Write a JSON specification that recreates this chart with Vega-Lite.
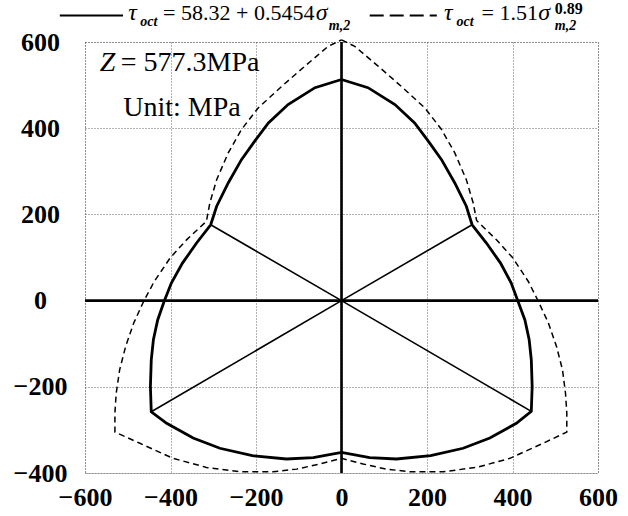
{
  "$schema": "https://vega.github.io/schema/vega-lite/v6.json",
  "width": 513,
  "height": 431,
  "autosize": {"type": "none"},
  "padding": {"left": 85, "top": 42, "right": 30, "bottom": 43},
  "background": "white",
  "config": {
    "view": {"stroke": "#666", "strokeDash": [1, 2], "strokeWidth": 1},
    "font": "Liberation Serif",
    "axis": {
      "grid": true,
      "gridColor": "#666",
      "gridDash": [1, 2],
      "gridWidth": 1,
      "domain": false,
      "ticks": false,
      "title": null,
      "labelFlush": false,
      "labelColor": "black"
    }
  },
  "datasets": {
    "envelopes": [
      {"curve": "linear", "seq": 0, "x": 0, "y": 513},
      {"curve": "linear", "seq": 1, "x": 62, "y": 494},
      {"curve": "linear", "seq": 2, "x": 125, "y": 455},
      {"curve": "linear", "seq": 3, "x": 171, "y": 412},
      {"curve": "linear", "seq": 4, "x": 203, "y": 370},
      {"curve": "linear", "seq": 5, "x": 234, "y": 327},
      {"curve": "linear", "seq": 6, "x": 265, "y": 273},
      {"curve": "linear", "seq": 7, "x": 292, "y": 219},
      {"curve": "linear", "seq": 8, "x": 305.5, "y": 176},
      {"curve": "linear", "seq": 9, "x": 339, "y": 133.6},
      {"curve": "linear", "seq": 10, "x": 372, "y": 87},
      {"curve": "linear", "seq": 11, "x": 397, "y": 40.6},
      {"curve": "linear", "seq": 12, "x": 413, "y": -2},
      {"curve": "linear", "seq": 13, "x": 429, "y": -45},
      {"curve": "linear", "seq": 14, "x": 439, "y": -91},
      {"curve": "linear", "seq": 15, "x": 444, "y": -137.5},
      {"curve": "linear", "seq": 16, "x": 446, "y": -199.5},
      {"curve": "linear", "seq": 17, "x": 444, "y": -257},
      {"curve": "linear", "seq": 18, "x": 409, "y": -284.6},
      {"curve": "linear", "seq": 19, "x": 347, "y": -319},
      {"curve": "linear", "seq": 20, "x": 284.5, "y": -342.6},
      {"curve": "linear", "seq": 21, "x": 208.6, "y": -359.8},
      {"curve": "linear", "seq": 22, "x": 128.6, "y": -367.5},
      {"curve": "linear", "seq": 23, "x": 66, "y": -364.5},
      {"curve": "linear", "seq": 24, "x": 0, "y": -352},
      {"curve": "linear", "seq": 25, "x": -66, "y": -364.5},
      {"curve": "linear", "seq": 26, "x": -128.6, "y": -367.5},
      {"curve": "linear", "seq": 27, "x": -208.6, "y": -359.8},
      {"curve": "linear", "seq": 28, "x": -284.5, "y": -342.6},
      {"curve": "linear", "seq": 29, "x": -347, "y": -319},
      {"curve": "linear", "seq": 30, "x": -409, "y": -284.6},
      {"curve": "linear", "seq": 31, "x": -445, "y": -258},
      {"curve": "linear", "seq": 32, "x": -447, "y": -199.5},
      {"curve": "linear", "seq": 33, "x": -445, "y": -137.5},
      {"curve": "linear", "seq": 34, "x": -440, "y": -91},
      {"curve": "linear", "seq": 35, "x": -430, "y": -45},
      {"curve": "linear", "seq": 36, "x": -415, "y": -2},
      {"curve": "linear", "seq": 37, "x": -398, "y": 40.6},
      {"curve": "linear", "seq": 38, "x": -372, "y": 87},
      {"curve": "linear", "seq": 39, "x": -339, "y": 133.6},
      {"curve": "linear", "seq": 40, "x": -306, "y": 176},
      {"curve": "linear", "seq": 41, "x": -292, "y": 219},
      {"curve": "linear", "seq": 42, "x": -265, "y": 273},
      {"curve": "linear", "seq": 43, "x": -234, "y": 327},
      {"curve": "linear", "seq": 44, "x": -203, "y": 370},
      {"curve": "linear", "seq": 45, "x": -171, "y": 412},
      {"curve": "linear", "seq": 46, "x": -125, "y": 455},
      {"curve": "linear", "seq": 47, "x": -62, "y": 494},
      {"curve": "linear", "seq": 48, "x": 0, "y": 513},

      {"curve": "power", "seq": 0, "x": 0, "y": 605},
      {"curve": "power", "seq": 1, "x": 31, "y": 590},
      {"curve": "power", "seq": 2, "x": 85.6, "y": 544},
      {"curve": "power", "seq": 3, "x": 140, "y": 497},
      {"curve": "power", "seq": 4, "x": 195, "y": 447},
      {"curve": "power", "seq": 5, "x": 234, "y": 397},
      {"curve": "power", "seq": 6, "x": 265, "y": 342.6},
      {"curve": "power", "seq": 7, "x": 292, "y": 280.6},
      {"curve": "power", "seq": 8, "x": 308, "y": 226.5},
      {"curve": "power", "seq": 9, "x": 316, "y": 186},
      {"curve": "power", "seq": 10, "x": 362.5, "y": 141},
      {"curve": "power", "seq": 11, "x": 401, "y": 98.7},
      {"curve": "power", "seq": 12, "x": 437, "y": 44.4},
      {"curve": "power", "seq": 13, "x": 460.6, "y": -2},
      {"curve": "power", "seq": 14, "x": 484, "y": -52},
      {"curve": "power", "seq": 15, "x": 503, "y": -106.6},
      {"curve": "power", "seq": 16, "x": 517, "y": -160.7},
      {"curve": "power", "seq": 17, "x": 524, "y": -215},
      {"curve": "power", "seq": 18, "x": 527, "y": -260},
      {"curve": "power", "seq": 19, "x": 527, "y": -305},
      {"curve": "power", "seq": 20, "x": 471.6, "y": -331},
      {"curve": "power", "seq": 21, "x": 394, "y": -366},
      {"curve": "power", "seq": 22, "x": 316, "y": -387},
      {"curve": "power", "seq": 23, "x": 238, "y": -397},
      {"curve": "power", "seq": 24, "x": 160, "y": -397},
      {"curve": "power", "seq": 25, "x": 105, "y": -391},
      {"curve": "power", "seq": 26, "x": 50.5, "y": -379},
      {"curve": "power", "seq": 27, "x": 0, "y": -366},
      {"curve": "power", "seq": 28, "x": -50.5, "y": -379},
      {"curve": "power", "seq": 29, "x": -105, "y": -391},
      {"curve": "power", "seq": 30, "x": -160, "y": -397},
      {"curve": "power", "seq": 31, "x": -238, "y": -397},
      {"curve": "power", "seq": 32, "x": -316, "y": -387},
      {"curve": "power", "seq": 33, "x": -394, "y": -366},
      {"curve": "power", "seq": 34, "x": -471.6, "y": -331},
      {"curve": "power", "seq": 35, "x": -530, "y": -305},
      {"curve": "power", "seq": 36, "x": -530, "y": -260},
      {"curve": "power", "seq": 37, "x": -527, "y": -215},
      {"curve": "power", "seq": 38, "x": -519, "y": -160.7},
      {"curve": "power", "seq": 39, "x": -505, "y": -106.6},
      {"curve": "power", "seq": 40, "x": -486, "y": -52},
      {"curve": "power", "seq": 41, "x": -463, "y": -2},
      {"curve": "power", "seq": 42, "x": -438, "y": 44.4},
      {"curve": "power", "seq": 43, "x": -401, "y": 98.7},
      {"curve": "power", "seq": 44, "x": -362.5, "y": 141},
      {"curve": "power", "seq": 45, "x": -316, "y": 184},
      {"curve": "power", "seq": 46, "x": -308, "y": 226.5},
      {"curve": "power", "seq": 47, "x": -292, "y": 280.6},
      {"curve": "power", "seq": 48, "x": -265, "y": 342.6},
      {"curve": "power", "seq": 49, "x": -234, "y": 397},
      {"curve": "power", "seq": 50, "x": -195, "y": 447},
      {"curve": "power", "seq": 51, "x": -140, "y": 497},
      {"curve": "power", "seq": 52, "x": -85.6, "y": 544},
      {"curve": "power", "seq": 53, "x": -31, "y": 590},
      {"curve": "power", "seq": 54, "x": 0, "y": 605}
    ],
    "axesZero": [
      {"x": -600, "y": 0, "x2": 600, "y2": 0},
      {"x": 0, "y": -400, "x2": 0, "y2": 600}
    ],
    "rays": [
      {"x": 0, "y": 0, "x2": 305.5, "y2": 176},
      {"x": 0, "y": 0, "x2": -306, "y2": 176},
      {"x": 0, "y": 0, "x2": -445, "y2": -258},
      {"x": 0, "y": 0, "x2": 444, "y2": -257}
    ],
    "keySwatches": [
      {"kind": "linear", "x": -659, "x2": -511, "y": 661.5},
      {"kind": "power", "x": 66, "x2": 223, "y": 661.5}
    ],
    "keyMain": [
      {"text": "= 58.32 + 0.5454", "x": -417.3, "y": 650.6},
      {"text": "= 1.51", "x": 327.5, "y": 650.6}
    ],
    "keyGreek": [
      {"text": "τ", "x": -499, "y": 650.6},
      {"text": "σ", "x": -60.1, "y": 650.6},
      {"text": "τ", "x": 240, "y": 650.6},
      {"text": "σ", "x": 460, "y": 650.6}
    ],
    "keySub": [
      {"text": "oct", "x": -470.6, "y": 636.7},
      {"text": "m,2", "x": -29.6, "y": 629},
      {"text": "oct", "x": 269.2, "y": 636.7},
      {"text": "m,2", "x": 499, "y": 629}
    ],
    "keySup": [
      {"text": "0.89", "x": 499, "y": 664.5}
    ],
    "noteItalic": [
      {"text": "Z", "x": -565.4, "y": 532.2}
    ],
    "noteText": [
      {"text": "= 577.3MPa", "x": -516.3, "y": 532.2},
      {"text": "Unit: MPa", "x": -510.4, "y": 427.6}
    ]
  },
  "layer": [
    {
      "data": {"name": "axesZero"},
      "mark": {"type": "rule", "color": "black", "strokeWidth": 2.6},
      "encoding": {
        "x": {
          "field": "x", "type": "quantitative",
          "scale": {"domain": [-600, 600], "nice": false},
          "axis": {
            "values": [-600, -400, -200, 0, 200, 400, 600],
            "labelPadding": 11,
            "labelFont": "Liberation Serif",
            "labelFontSize": 26,
            "labelFontWeight": 700
          }
        },
        "y": {
          "field": "y", "type": "quantitative",
          "scale": {"domain": [-400, 600], "nice": false},
          "axis": {
            "values": [-400, -200, 0, 200, 400, 600],
            "labelAlign": "center",
            "labelPadding": 45,
            "labelFont": "Liberation Serif",
            "labelFontSize": 26,
            "labelFontWeight": 700
          }
        },
        "x2": {"field": "x2"},
        "y2": {"field": "y2"}
      }
    },
    {
      "data": {"name": "rays"},
      "mark": {"type": "rule", "color": "black", "strokeWidth": 1.6},
      "encoding": {
        "x": {"field": "x", "type": "quantitative"},
        "y": {"field": "y", "type": "quantitative"},
        "x2": {"field": "x2"},
        "y2": {"field": "y2"}
      }
    },
    {
      "data": {"name": "envelopes"},
      "transform": [{"filter": "datum.curve === 'power'"}],
      "mark": {"type": "line", "color": "black", "strokeWidth": 1.5, "strokeDash": [6, 4]},
      "encoding": {
        "x": {"field": "x", "type": "quantitative"},
        "y": {"field": "y", "type": "quantitative"},
        "order": {"field": "seq", "type": "quantitative"}
      }
    },
    {
      "data": {"name": "envelopes"},
      "transform": [{"filter": "datum.curve === 'linear'"}],
      "mark": {"type": "line", "color": "black", "strokeWidth": 2.8, "strokeJoin": "miter"},
      "encoding": {
        "x": {"field": "x", "type": "quantitative"},
        "y": {"field": "y", "type": "quantitative"},
        "order": {"field": "seq", "type": "quantitative"}
      }
    },
    {
      "data": {"name": "keySwatches"},
      "transform": [{"filter": "datum.kind === 'linear'"}],
      "mark": {"type": "rule", "color": "black", "strokeWidth": 2},
      "encoding": {
        "x": {"field": "x", "type": "quantitative"},
        "x2": {"field": "x2"},
        "y": {"field": "y", "type": "quantitative"}
      }
    },
    {
      "data": {"name": "keySwatches"},
      "transform": [{"filter": "datum.kind === 'power'"}],
      "mark": {"type": "rule", "color": "black", "strokeWidth": 2, "strokeDash": [14, 6]},
      "encoding": {
        "x": {"field": "x", "type": "quantitative"},
        "x2": {"field": "x2"},
        "y": {"field": "y", "type": "quantitative"}
      }
    },
    {
      "data": {"name": "keyMain"},
      "mark": {"type": "text", "font": "Liberation Serif", "fontSize": 22, "align": "left", "baseline": "alphabetic", "color": "black"},
      "encoding": {
        "x": {"field": "x", "type": "quantitative"},
        "y": {"field": "y", "type": "quantitative"},
        "text": {"field": "text"}
      }
    },
    {
      "data": {"name": "keyGreek"},
      "mark": {"type": "text", "font": "Liberation Serif", "fontSize": 24, "fontStyle": "italic", "align": "left", "baseline": "alphabetic", "color": "black"},
      "encoding": {
        "x": {"field": "x", "type": "quantitative"},
        "y": {"field": "y", "type": "quantitative"},
        "text": {"field": "text"}
      }
    },
    {
      "data": {"name": "keySub"},
      "mark": {"type": "text", "font": "Liberation Serif", "fontSize": 14, "fontStyle": "italic", "fontWeight": "bold", "align": "left", "baseline": "alphabetic", "color": "black"},
      "encoding": {
        "x": {"field": "x", "type": "quantitative"},
        "y": {"field": "y", "type": "quantitative"},
        "text": {"field": "text"}
      }
    },
    {
      "data": {"name": "keySup"},
      "mark": {"type": "text", "font": "Liberation Serif", "fontSize": 16, "fontWeight": "bold", "align": "left", "baseline": "alphabetic", "color": "black"},
      "encoding": {
        "x": {"field": "x", "type": "quantitative"},
        "y": {"field": "y", "type": "quantitative"},
        "text": {"field": "text"}
      }
    },
    {
      "data": {"name": "noteItalic"},
      "mark": {"type": "text", "font": "Liberation Serif", "fontSize": 28, "fontStyle": "italic", "align": "left", "baseline": "alphabetic", "color": "black"},
      "encoding": {
        "x": {"field": "x", "type": "quantitative"},
        "y": {"field": "y", "type": "quantitative"},
        "text": {"field": "text"}
      }
    },
    {
      "data": {"name": "noteText"},
      "mark": {"type": "text", "font": "Liberation Serif", "fontSize": 28, "align": "left", "baseline": "alphabetic", "color": "black"},
      "encoding": {
        "x": {"field": "x", "type": "quantitative"},
        "y": {"field": "y", "type": "quantitative"},
        "text": {"field": "text"}
      }
    }
  ]
}
